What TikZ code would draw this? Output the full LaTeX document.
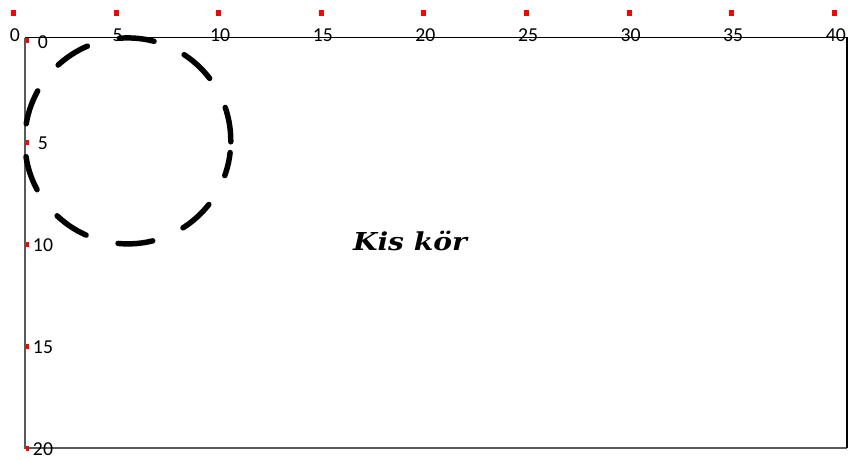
\documentclass[tikz,border=0pt]{standalone}
\usepackage{fontspec}
\setmainfont{Carlito}
\newfontfamily\labelserif{DejaVu Serif}
\usepackage{tikz}

\begin{document}
\begin{tikzpicture}[
    x=0.75pt, y=-0.75pt,
    every node/.style={font=\fontsize{14.8}{16}\selectfont, inner sep=0pt},
    tickmark/.style={fill=red, draw=none, minimum width=3.75pt, minimum height=4.5pt},
    sidetick/.style={fill=red, draw=none, minimum width=2.25pt, minimum height=3.75pt},
    axislabel/.style={anchor=base},
    edgeblack/.style={line width=1pt, black},
    edgegray/.style={line width=1.5pt, black!65},
    dashring/.style={line width=4.1pt, line cap=round,
                     dash pattern=on 26.25pt off 24.8pt}
  ]
  \useasboundingbox (0,0) rectangle (851,458);

  % plot frame
  \coordinate (tl) at (25,37.5);
  \coordinate (tr) at (847,37.5);
  \coordinate (bl) at (25,448);
  \coordinate (br) at (847,448);
  \draw[edgegray] (tl) -- (bl) -- (br);
  \draw[edgeblack] (tl) -- (tr) -- (br);

  % top scale
  \foreach \v [count=\i from 0] in {0,5,...,40} {
    \node[tickmark] (tt\i) at ({13.5+102.6*\i},13) {};
    \node[axislabel] (tx\i) at ({15+102.6*\i},41.5) {\v};
  }

  % left scale
  \foreach \v [count=\i from 0] in {0,5,...,20} {
    \node[sidetick] (lt\i) at (27.5,{40.5+101.9*\i}) {};
    \node[axislabel] (ly\i) at (43,{48+101.9*\i}) {\v};
  }

  % dashed circle
  \coordinate (ctr) at (127.8,140.9);
  \draw[dashring] (ctr) ++(0.5:103) arc[start angle=0.5, end angle=-353.5, radius=103];

  \node[anchor=base, font=\labelserif\bfseries\itshape\fontsize{18.5}{20}\selectfont]
    (caption) at (410,250) {\scalebox{1.14}[1]{Kis kör}};
\end{tikzpicture}
\end{document}
